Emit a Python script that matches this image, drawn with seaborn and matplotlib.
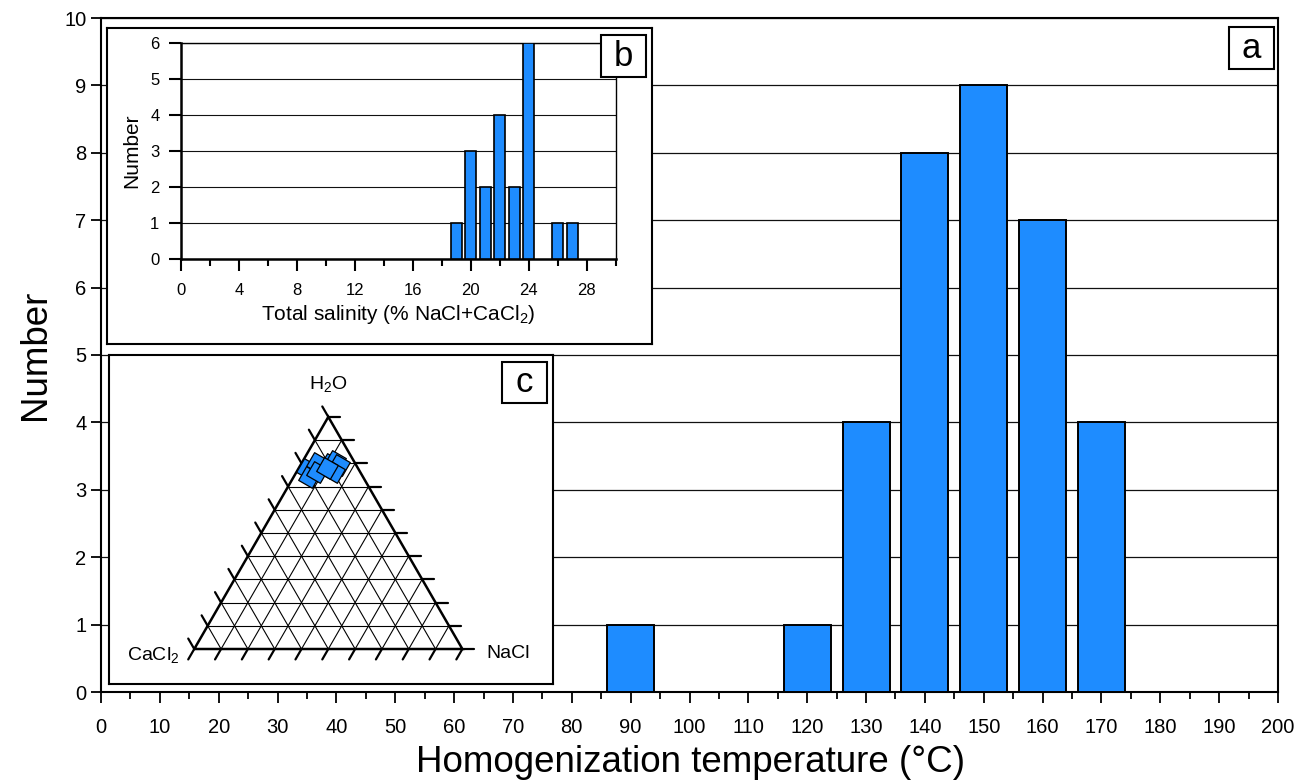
import numpy as np
import pandas as pd
import matplotlib
matplotlib.use("Agg")
import matplotlib.pyplot as plt
import seaborn as sns
from matplotlib.patches import Rectangle
from matplotlib.ticker import MultipleLocator

# ---------------- data ----------------
temp_bins = [90, 120, 130, 140, 150, 160, 170]
temp_counts = [1, 1, 4, 8, 9, 7, 4]
temp_ticks = list(range(0, 201, 10))

sal_bins = [19, 20, 21, 22, 23, 24, 26, 27]
sal_counts = [1, 3, 2, 4, 2, 6, 1, 1]
sal_ticks = [0, 4, 8, 12, 16, 20, 24, 28]

h2o = [77.6, 80.0, 74.2, 76.1, 79.7, 81.1, 79.3, 76.1, 78.0]
nacl = [3.4, 5.9, 5.8, 7.6, 10.8, 12.0, 14.5, 14.2, 10.4]
cacl2 = [19.0, 14.1, 20.0, 16.3, 9.5, 6.9, 6.2, 9.7, 11.6]

BLUE = "#1E8CFF"
W, H = 1302, 781

sns.set_style("ticks")
plt.rcParams["font.family"] = ["Liberation Sans", "DejaVu Sans"]
plt.rcParams["mathtext.default"] = "regular"
for k in ["text.color", "axes.labelcolor", "xtick.color", "ytick.color",
          "axes.edgecolor"]:
    plt.rcParams[k] = "black"

fig = plt.figure(figsize=(W / 100, H / 100), dpi=100)


def fig_rect(x0, y0, x1, y1):
    return [x0 / W, 1 - y1 / H, (x1 - x0) / W, (y1 - y0) / H]


# ---------------- main axes (a) ----------------
ax = fig.add_axes(fig_rect(101, 18, 1278, 692))
sns.barplot(x=temp_bins, y=temp_counts, native_scale=True, width=0.8,
            color=BLUE, saturation=1, edgecolor="black", linewidth=1.4,
            errorbar=None, ax=ax, zorder=3)
ax.set_xlim(0, 200)
ax.set_ylim(0, 10)
ax.set_xticks(temp_ticks)
ax.set_xticklabels([str(t) for t in temp_ticks])
ax.xaxis.set_minor_locator(MultipleLocator(5))
ax.set_yticks(range(0, 11))
ax.yaxis.grid(True, color="#111111", lw=0.9)
ax.set_axisbelow(True)
ax.tick_params(axis="both", which="major", direction="out", length=8,
               width=1.3, labelsize=14.5, color="black", labelcolor="black")
ax.tick_params(axis="x", which="major", pad=11)
ax.tick_params(axis="y", which="major", pad=3, length=7.5)
ax.tick_params(axis="x", which="minor", direction="out", length=4.8, width=1.3)
for s in ax.spines.values():
    s.set_linewidth(1.5)
    s.set_color("black")
ax.set_xlabel("")
ax.set_ylabel("")
fig.text(690 / W, 1 - 772 / H, "Homogenization temperature (°C)",
         ha="center", va="baseline", fontsize=26.5)
fig.text(35 / W, 1 - 355 / H, "Number", rotation=90, ha="center",
         va="center", fontsize=26.5)

# ---------------- inset b ----------------
fb = fig.add_axes(fig_rect(107, 28, 652, 344))
fb.set_zorder(2)
fb.set_facecolor("white")
fb.set_xticks([])
fb.set_yticks([])
for s in fb.spines.values():
    s.set_linewidth(1.5)
    s.set_color("black")

axb = fig.add_axes(fig_rect(181, 43.3, 615.7, 259))
axb.set_zorder(3)
sns.barplot(x=sal_bins, y=sal_counts, native_scale=True, width=0.75,
            color=BLUE, saturation=1, edgecolor="black", linewidth=1.2,
            errorbar=None, ax=axb, zorder=3)
axb.set_xlim(0, 30)
axb.set_ylim(0, 6)
axb.set_xticks(sal_ticks)
axb.set_xticklabels([str(t) for t in sal_ticks])
axb.xaxis.set_minor_locator(MultipleLocator(2))
axb.set_yticks(range(0, 7))
axb.yaxis.grid(True, color="#111111", lw=0.8)
axb.set_axisbelow(True)
axb.tick_params(axis="both", which="major", direction="out", length=8.5,
                width=1.5, labelsize=12, color="black", labelcolor="black")
axb.tick_params(axis="x", which="major", pad=9)
axb.tick_params(axis="y", which="major", pad=7)
axb.tick_params(axis="x", which="minor", direction="out", length=5, width=1.5)
axb.spines["left"].set_linewidth(1.8)
axb.spines["bottom"].set_linewidth(1.8)
axb.spines["top"].set_linewidth(1.0)
axb.spines["right"].set_linewidth(1.0)
for s in axb.spines.values():
    s.set_color("black")
axb.set_xlabel("")
axb.set_ylabel("")
fig.text(398 / W, 1 - 320 / H, "Total salinity (% NaCl+CaCl$_2$)",
         ha="center", va="baseline", fontsize=15)
fig.text(132 / W, 1 - 151 / H, "Number", rotation=90, ha="center",
         va="center", fontsize=15)

# ---------------- inset c (ternary) ----------------
axc = fig.add_axes(fig_rect(109, 355, 553, 684))
axc.set_zorder(2)
axc.set_facecolor("white")
axc.set_xlim(-0.318, 1.338)
axc.set_ylim(-0.1306, 1.097)
axc.set_xticks([])
axc.set_yticks([])
for s in axc.spines.values():
    s.set_linewidth(1.5)
    s.set_color("black")

h = np.sqrt(3) / 2
# inner grid
for k in range(1, 10):
    f = k / 10
    axc.plot([f / 2, 1 - f / 2], [f * h, f * h], color="black", lw=0.8)
    axc.plot([f, f + (1 - f) / 2], [0, (1 - f) * h], color="black", lw=0.8)
    axc.plot([f, f / 2], [0, f * h], color="black", lw=0.8)
# triangle outline
axc.plot([0, 1, 0.5, 0], [0, 0, h, 0], color="black", lw=1.8,
         solid_joinstyle="miter")
# outer ticks
L = 0.045
for k in range(0, 11):
    f = k / 10
    axc.plot([f, f - 0.5 * L], [0, -h * L], color="black", lw=1.6)
    xr, yr = 1 - f / 2, f * h
    axc.plot([xr, xr + L], [yr, yr], color="black", lw=1.6)
    xl, yl = f / 2, f * h
    axc.plot([xl, xl - 0.5 * L], [yl, yl + h * L], color="black", lw=1.6)

tern = pd.DataFrame({"H2O": h2o, "NaCl": nacl, "CaCl2": cacl2})
tern["x"] = (tern["NaCl"] + tern["H2O"] / 2) / 100
tern["y"] = tern["H2O"] / 100 * h
sns.scatterplot(data=tern, x="x", y="y", marker=(4, 0, 15), s=260,
                color=BLUE, edgecolor="black", linewidth=0.9, ax=axc,
                zorder=5)
axc.set_xlabel("")
axc.set_ylabel("")
axc.text(0.5, 0.988, "H$_2$O", ha="center", va="center", fontsize=14)
axc.text(-0.154, -0.022, "CaCl$_2$", ha="center", va="center", fontsize=14)
axc.text(1.17, -0.015, "NaCl", ha="center", va="center", fontsize=14)

# ---------------- panel letters ----------------
for (x0, y0, x1, y1, lab) in [(1229, 27, 1274, 69, "a"),
                              (601, 34.7, 645.7, 77.3, "b"),
                              (501.7, 361.7, 546.7, 403, "c")]:
    r = Rectangle((x0 / W, 1 - y1 / H), (x1 - x0) / W, (y1 - y0) / H,
                  transform=fig.transFigure, facecolor="white",
                  edgecolor="black", lw=1.5, zorder=10)
    fig.add_artist(r)
    fig.text((x0 + x1) / 2 / W, 1 - (y0 + y1) / 2 / H, lab, ha="center",
             va="center", fontsize=25, zorder=11)

fig.savefig("out.png", dpi=100)
